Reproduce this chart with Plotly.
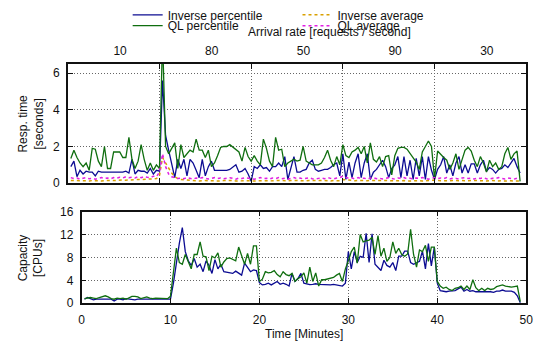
import plotly.graph_objects as go

# ---- sampling grid: one sample every 20 s (minutes) ----
SAMPLE_MIN = [round(k / 3, 3) for k in range(1, 149)]

# ---- response time [s] ----
RESP_INV_PCT = [
    0.9, 1.2, 0.35, 0.7, 0.5, 0.65, 0.6, 0.6, 0.4, 0.65, 0.6, 0.6, 0.6, 0.6, 0.6, 0.6, 0.6, 0.6, 0.65, 0.55, 1.3, 0.5, 0.7, 0.65, 0.65, 0.55, 0.8, 0.5, 0.7, 0.65,
    5.6, 2.6, 1.8, 1.1, 0.3, 1.3, 0.8, 1.3, 0.4, 1.3, 1.1, 0.7, 0.3, 1.3, 0.4, 0.9, 1.2, 0.7, 0.7, 0.7, 0.7, 0.7, 0.75, 0.9, 1.0, 0.6, 0.65, 0.8, 0.5, 0.1,
    0.9, 0.8, 1.0, 0.8, 0.85, 0.65, 0.9, 0.9, 1.1, 0.9, 1.45, 0.2, 0.9, 1.45, 0.6, 0.6, 0.7, 0.75, 1.1, 1.25, 0.75, 0.65, 0.7, 0.75, 0.75, 0.85, 1.0, 1.1, 0.4, 1.6,
    0.2, 1.15, 0.3, 1.1, 1.6, 0.3, 1.1, 1.6, 0.2, 0.6, 0.75, 1.0, 1.25, 0.9, 0.3, 0.8, 1.0, 1.45, 0.3, 1.45, 0.4, 1.25, 0.2, 1.35, 0.4, 1.45, 0.2, 1.45, 0.7, 0.2,
    0.75, 1.0, 1.45, 0.55, 1.0, 0.4, 1.1, 1.45, 0.55, 1.0, 0.55, 1.05, 1.05, 0.55, 1.0, 1.25, 0.65, 0.85, 0.75, 0.55, 0.75, 0.8, 1.0, 0.85, 1.1, 1.35, 0.9, 0.55,
]
RESP_INV_AVG = [
    0.15, 0.14, 0.13, 0.12, 0.15, 0.13, 0.12, 0.14, 0.15, 0.13, 0.12, 0.14, 0.13, 0.15, 0.14, 0.16, 0.15, 0.17, 0.16, 0.18, 0.17, 0.18, 0.2, 0.19, 0.2, 0.22, 0.2, 0.22, 0.25, 0.4,
    1.4, 1.1, 0.8, 0.55, 0.35, 0.25, 0.2, 0.18, 0.15, 0.14, 0.12, 0.13, 0.12, 0.14, 0.15, 0.13, 0.12, 0.14, 0.13, 0.12, 0.14, 0.15, 0.13, 0.14, 0.12, 0.13, 0.15, 0.14, 0.13, 0.12,
    0.13, 0.12, 0.14, 0.15, 0.13, 0.12, 0.14, 0.13, 0.15, 0.14, 0.12, 0.13, 0.15, 0.14, 0.13, 0.12, 0.14, 0.13, 0.15, 0.14, 0.12, 0.13, 0.14, 0.15, 0.13, 0.12, 0.14, 0.15, 0.13, 0.2,
    0.18, 0.15, 0.14, 0.13, 0.15, 0.14, 0.12, 0.13, 0.15, 0.14, 0.13, 0.12, 0.14, 0.15, 0.13, 0.14, 0.12, 0.13, 0.15, 0.14, 0.12, 0.13, 0.14, 0.15, 0.13, 0.12, 0.14, 0.13, 0.15, 0.16,
    0.14, 0.13, 0.12, 0.14, 0.13, 0.15, 0.12, 0.13, 0.14, 0.12, 0.13, 0.15, 0.14, 0.12, 0.13, 0.14, 0.12, 0.13, 0.15, 0.12, 0.14, 0.13, 0.12, 0.14, 0.13, 0.12, 0.14, 0.12,
]
RESP_QL_PCT = [
    1.35, 1.8, 1.4, 1.1, 0.9, 1.1, 0.7, 1.9, 1.85, 1.2, 0.9, 2.0, 0.8, 0.8, 1.7, 1.7, 1.7, 1.4, 1.4, 2.5, 1.3, 0.8, 1.2, 2.1, 1.3, 0.7, 1.1, 0.7, 1.0, 0.8,
    8.0, 2.0, 1.6, 1.9, 2.2, 0.8, 2.1, 1.4, 1.6, 1.8, 1.7, 2.4, 1.8, 1.8, 1.4, 1.8, 0.9, 1.1, 1.5, 1.95, 2.0, 2.0, 2.1, 1.95, 1.85, 1.7, 1.2, 1.95, 1.45, 1.2,
    1.5, 1.2, 1.0, 2.4, 1.9, 1.2, 0.9, 2.5, 1.8, 1.85, 0.9, 1.1, 1.2, 1.3, 1.2, 1.25, 2.0, 1.2, 1.1, 1.0, 1.0, 1.0, 1.1, 1.4, 1.8, 1.25, 0.9, 1.45, 1.0, 2.1,
    1.5, 1.4, 1.7, 1.8, 1.95, 1.6, 2.0, 1.1, 2.2, 1.3, 1.15, 1.45, 0.9, 1.45, 1.5, 0.45, 1.5, 1.9, 1.95, 1.95, 1.85, 1.6, 1.4, 1.15, 0.75, 1.7, 2.0, 2.3, 2.0, 0.25,
    1.75, 1.55, 1.4, 1.25, 0.75, 1.1, 1.6, 0.75, 1.3, 1.8, 1.95, 1.75, 1.25, 0.9, 1.45, 1.1, 0.6, 1.25, 0.9, 1.1, 0.75, 0.9, 1.6, 1.95, 1.3, 1.6, 1.75, 0.1,
]
RESP_QL_AVG = [
    0.3, 0.25, 0.28, 0.22, 0.27, 0.3, 0.24, 0.26, 0.22, 0.28, 0.3, 0.25, 0.28, 0.24, 0.3, 0.27, 0.32, 0.28, 0.35, 0.3, 0.33, 0.28, 0.35, 0.3, 0.36, 0.32, 0.3, 0.38, 0.35, 0.6,
    1.6, 0.9, 0.5, 0.35, 0.3, 0.25, 0.28, 0.24, 0.3, 0.26, 0.22, 0.28, 0.25, 0.3, 0.27, 0.23, 0.26, 0.3, 0.25, 0.28, 0.24, 0.27, 0.3, 0.26, 0.22, 0.28, 0.25, 0.3, 0.27, 0.25,
    0.22, 0.26, 0.3, 0.24, 0.27, 0.22, 0.28, 0.25, 0.3, 0.24, 0.27, 0.22, 0.26, 0.3, 0.25, 0.28, 0.23, 0.27, 0.3, 0.24, 0.22, 0.26, 0.28, 0.24, 0.3, 0.26, 0.23, 0.28, 0.3, 0.38,
    0.32, 0.26, 0.28, 0.23, 0.3, 0.25, 0.27, 0.22, 0.28, 0.3, 0.24, 0.27, 0.23, 0.26, 0.3, 0.25, 0.22, 0.28, 0.26, 0.3, 0.24, 0.27, 0.23, 0.28, 0.25, 0.3, 0.26, 0.22, 0.28, 0.3,
    0.24, 0.28, 0.25, 0.3, 0.23, 0.27, 0.26, 0.22, 0.28, 0.3, 0.25, 0.27, 0.23, 0.28, 0.26, 0.3, 0.24, 0.22, 0.27, 0.25, 0.3, 0.26, 0.23, 0.28, 0.25, 0.22, 0.27, 0.24,
]

# ---- capacity [CPUs] ----
CAP_INV = [
    0.7, 1.0, 0.8, 0.6, 0.7, 0.7, 0.7, 0.7, 0.6, 0.7, 0.4, 0.7, 0.7, 0.6, 0.8, 0.7, 0.7, 0.6, 0.7, 0.7, 0.6, 0.7, 0.7, 0.7, 0.6, 0.7, 0.7, 0.6, 0.6, 0.7,
    3.5, 7.5, 10.5, 13.2, 9.0, 7.4, 6.6, 7.8, 6.3, 6.8, 5.5, 7.4, 6.6, 5.2, 7.6, 6.0, 6.8, 5.5, 5.4, 5.3, 5.2, 5.6, 5.2, 4.9, 7.0, 6.2, 5.5, 5.8, 5.7, 3.6,
    3.2, 3.3, 3.5, 3.2, 3.5, 3.8, 3.3, 3.5, 3.3, 3.0, 5.2, 3.8, 4.3, 5.2, 3.5, 3.4, 3.25, 3.3, 3.4, 3.3, 3.25, 3.3, 3.25, 3.2, 3.3, 3.2, 3.1, 3.0, 3.5, 9.0,
    6.0, 9.0, 7.1, 8.2, 8.0, 12.2, 7.1, 12.1, 6.8, 6.3, 5.7, 7.5, 6.6, 6.3, 7.1, 5.7, 8.2, 8.2, 9.1, 9.1, 7.1, 6.8, 7.1, 7.3, 9.1, 6.0, 10.4, 6.5, 9.8, 3.5,
    2.2, 2.1, 2.0, 2.1, 2.2, 2.2, 2.5, 2.8, 2.1, 2.4, 2.1, 2.2, 2.0, 2.0, 2.0, 2.0, 2.1, 2.0, 1.9, 2.1, 2.1, 2.3, 2.1, 2.1, 2.1, 1.9, 1.3, 0.1,
]
CAP_QL = [
    0.8, 0.9, 1.0, 0.9, 0.8, 1.0, 1.2, 1.3, 1.1, 0.8, 0.7, 0.9, 0.8, 0.9, 0.7, 0.9, 1.2, 1.2, 1.1, 0.8, 0.9, 1.1, 0.9, 0.8, 0.9, 0.9, 0.8, 0.9, 0.8, 1.2,
    5.5, 9.6, 7.1, 6.8, 8.5, 7.4, 6.0, 8.5, 8.5, 10.7, 8.2, 8.1, 5.7, 8.2, 7.9, 8.8, 6.3, 7.2, 7.8, 7.9, 7.6, 7.4, 9.8, 8.2, 6.8, 8.7, 6.8, 10.0, 10.0, 3.8,
    4.2, 5.5, 5.3, 5.4, 5.7, 5.0, 4.6, 5.5, 5.0, 4.8, 5.2, 3.8, 4.3, 4.6, 5.3, 3.5, 6.3, 3.8, 5.3, 3.0, 4.1, 4.1, 4.2, 4.3, 4.5, 4.9, 5.2, 3.8, 6.0, 7.4,
    9.0, 9.8, 7.0, 12.0, 10.7, 10.9, 11.0, 11.5, 8.5, 11.8, 8.2, 9.6, 7.3, 8.0, 10.7, 8.7, 9.6, 8.5, 8.2, 8.6, 12.9, 8.5, 6.3, 9.3, 9.0, 10.1, 7.3, 9.8, 9.8, 3.8,
    3.0, 2.6, 2.8, 2.4, 2.2, 2.6, 2.7, 3.0, 2.4, 3.0, 2.4, 4.1, 2.7, 2.2, 2.6, 2.2, 2.6, 2.4, 2.5, 2.9, 3.0, 3.2, 3.0, 2.9, 2.8, 2.9, 3.0, 0.3,
]

# ---- arrival rate per 10-minute phase (top axis) ----
PHASE_CENTER_MIN = [5.7, 15.7, 25.7, 35.7, 45.7]
ARRIVAL_RATE = ["10", "80", "50", "90", "30"]

NAVY = "#0c0c92"
GREEN = "#0f6e0f"
ORANGE = "#d9a000"
MAGENTA = "#e21ee2"
INK = "#111111"
FONT = "Liberation Sans, Arial, sans-serif"
W, H = 545, 349


def fx(p):
    return p / W


def fy(p):
    return 1 - p / H


fig = go.Figure()

series_top = [
    ("Inverse percentile", RESP_INV_PCT, NAVY, "solid", 1.3, "legend"),
    ("Inverse average", RESP_INV_AVG, ORANGE, "dot", 1.5, "legend2"),
    ("QL percentile", RESP_QL_PCT, GREEN, "solid", 1.3, "legend3"),
    ("QL average", RESP_QL_AVG, MAGENTA, "dot", 1.5, "legend4"),
]
for name, vals, col, dash, w, lg in series_top:
    fig.add_trace(go.Scatter(
        x=SAMPLE_MIN, y=vals, name=name, mode="lines",
        line=dict(color=col, width=w, dash=dash),
        xaxis="x2", yaxis="y2", legend=lg, showlegend=True,
    ))

fig.add_trace(go.Scatter(x=SAMPLE_MIN, y=CAP_INV, mode="lines", showlegend=False,
                         line=dict(color=NAVY, width=1.3), xaxis="x", yaxis="y"))
fig.add_trace(go.Scatter(x=SAMPLE_MIN, y=CAP_QL, mode="lines", showlegend=False,
                         line=dict(color=GREEN, width=1.3), xaxis="x", yaxis="y"))

# empty carrier so the top arrival-rate axis gets rendered
fig.add_trace(go.Scatter(x=[0, 50], y=[None, None], mode="lines", showlegend=False,
                         hoverinfo="skip", xaxis="x3", yaxis="y2"))

axis_common = dict(
    showline=True, linecolor=INK, linewidth=1.5, mirror="ticks",
    ticks="inside", ticklen=5, tickcolor=INK, tickwidth=1,
    showgrid=True, gridcolor="#666666", griddash="1px,2px", gridwidth=1,
    zeroline=False, tickfont=dict(family=FONT, size=12, color=INK),
)

fig.update_layout(
    width=W, height=H, margin=dict(l=0, r=0, t=0, b=0),
    paper_bgcolor="white", plot_bgcolor="white",
    font=dict(family=FONT, size=12, color=INK),
    xaxis=dict(axis_common, domain=[fx(80), fx(533)], anchor="y", range=[0, 50],
               tickvals=[0, 10, 20, 30, 40, 50], ticklabelstandoff=5),
    yaxis=dict(axis_common, domain=[fy(308), fy(211)], anchor="x", range=[0, 16],
               tickvals=[0, 4, 8, 12, 16], ticklabelstandoff=4),
    xaxis2=dict(axis_common, domain=[fx(66), fx(533)], anchor="y2", range=[0, 50],
                tickvals=[10, 20, 30, 40], showticklabels=False),
    yaxis2=dict(axis_common, domain=[fy(181), fy(55)], anchor="x2", range=[0, 6.5],
                tickvals=[0, 2, 4, 6], ticklabelstandoff=4),
    xaxis3=dict(overlaying="x2", side="top", anchor="y2", range=[0, 50],
                tickvals=PHASE_CENTER_MIN, ticktext=ARRIVAL_RATE, ticks="",
                ticklabelstandoff=6,
                showgrid=False, showline=False, zeroline=False,
                tickfont=dict(family=FONT, size=12, color=INK)),
)

legend_style = dict(bgcolor="rgba(0,0,0,0)", borderwidth=0, xanchor="left",
                    yanchor="middle", font=dict(family=FONT, size=12, color=INK))
fig.update_layout(
    legend=dict(legend_style, x=fx(127), y=fy(3)),
    legend2=dict(legend_style, x=fx(300), y=fy(3)),
    legend3=dict(legend_style, x=fx(127), y=fy(14.5)),
    legend4=dict(legend_style, x=fx(300), y=fy(14.5)),
)

annotations = [
    dict(text="Arrival rate [requests / second]", x=fx(333), y=fy(21)),
    dict(text="Time [Minutes]", x=fx(306.5), y=fy(341)),
    dict(text="Resp. time<br>[seconds]", x=fx(28.5), y=fy(118), textangle=-90),
    dict(text="Capacity<br>[CPUs]", x=fx(28.5), y=fy(259.5), textangle=-90),
]
for a in annotations:
    fig.add_annotation(xref="paper", yref="paper", showarrow=False,
                       xanchor="center", yanchor="middle",
                       font=dict(family=FONT, size=12, color=INK), **a)

fig.write_html("out.html")
